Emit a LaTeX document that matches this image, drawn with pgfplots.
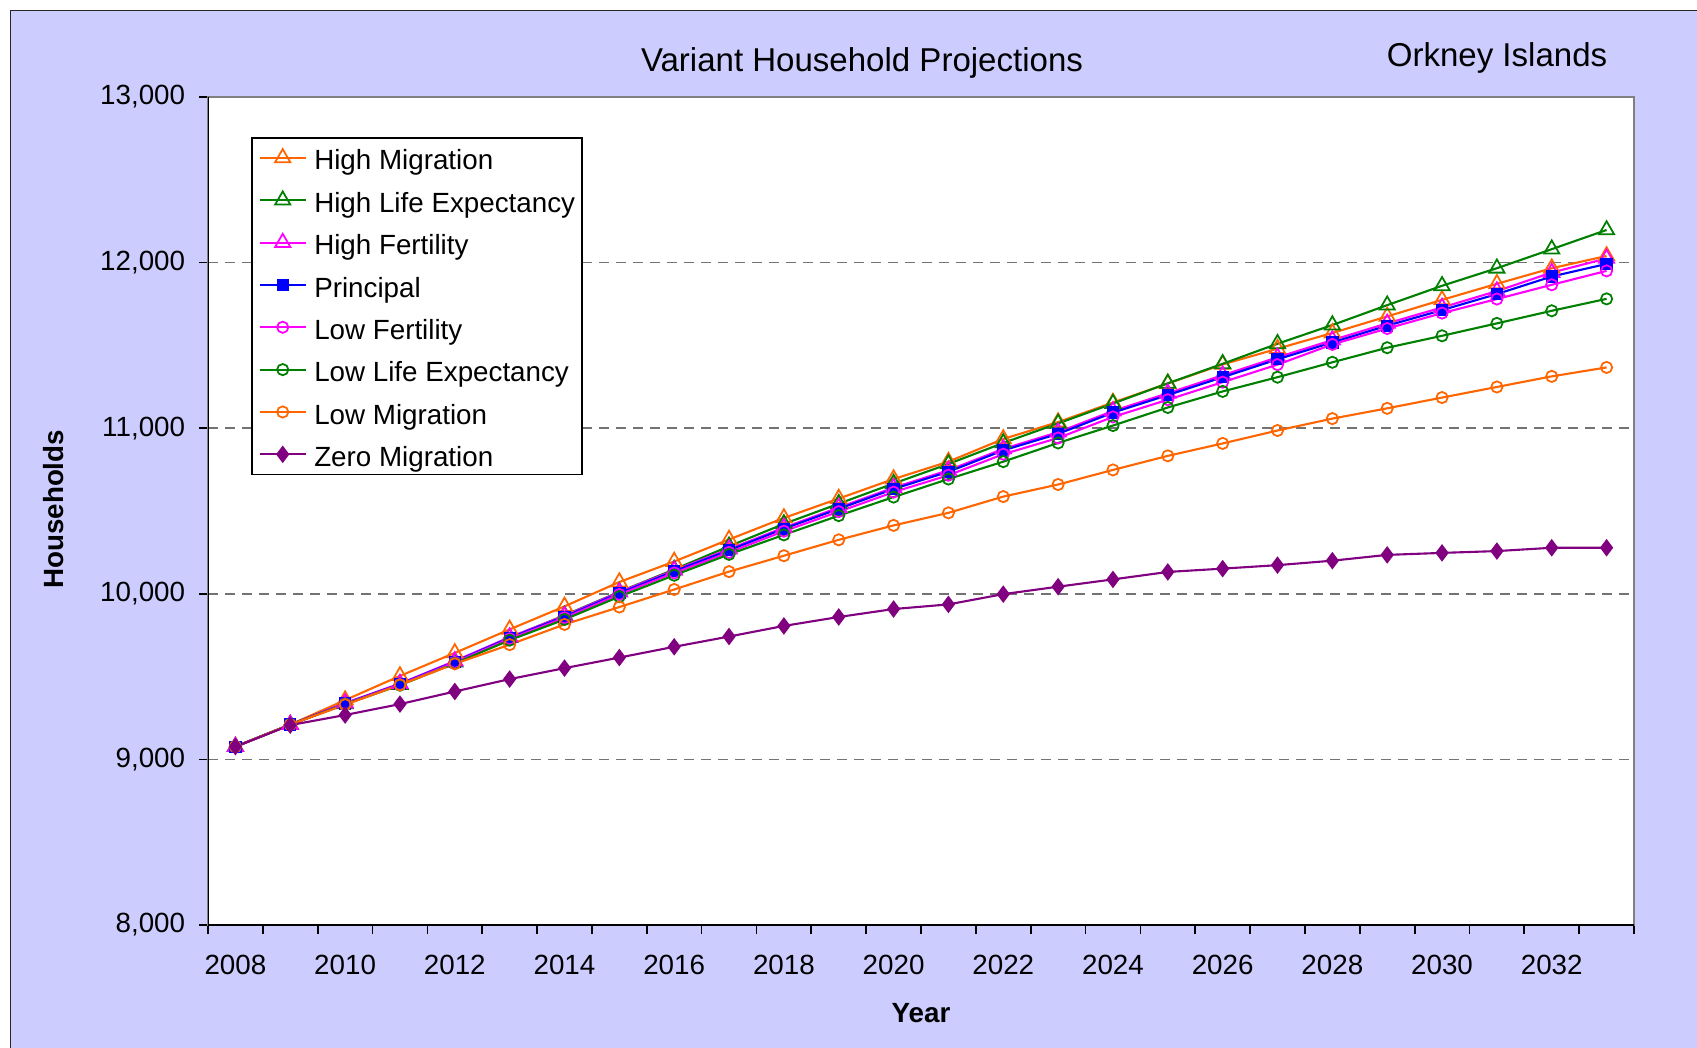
\documentclass[border=0pt]{standalone}
\usepackage{pgfplots}
\pgfplotsset{compat=1.18}
\usepackage{fontspec}
\setmainfont{Liberation Sans}
\definecolor{bgl}{HTML}{CCCCFF}
\definecolor{cor}{HTML}{FF6600}
\definecolor{cgr}{HTML}{008000}
\definecolor{cmg}{HTML}{FF00FF}
\definecolor{cbl}{HTML}{0000FF}
\definecolor{cpu}{HTML}{800080}
\newcommand{\fs}{\fontsize{7.9}{9.5}\selectfont}
\begin{document}
\begin{tikzpicture}
\path[use as bounding box] (0,0) rectangle (169.7mm,-104.8mm);
\fill[white] (0,0) rectangle (169.7mm,-104.8mm);
\fill[bgl] (1.05mm,-1.05mm) rectangle (169.7mm,-104.8mm);
\draw[black!85, line width=0.15mm] (1.05mm,-104.8mm) -- (1.05mm,-1.05mm) -- (169.7mm,-1.05mm);
\node[font=\fontsize{9.4}{11}\selectfont] at (86.2mm,-6.3mm) {Variant Household Projections};
\node[font=\fontsize{9.4}{11}\selectfont] at (149.7mm,-5.75mm) {Orkney Islands};
\begin{axis}[
 at={(20.8mm,-9.7mm)}, anchor=north west,
 scale only axis, width=142.6mm, height=82.8mm,
 xmin=2007.5, xmax=2033.5, ymin=8000, ymax=13000,
 axis background/.style={fill=white},
 axis line style={black!50, line width=0.5pt},
 xtick={2008,2010,...,2032},
 minor xtick={2007.5,2008.5,...,2033.5},
 ytick={8000,9000,...,13000},
 major x tick style={draw=none},
 minor tick length=0.9mm, major tick length=0.9mm,
 tick align=outside, xtick pos=bottom, ytick pos=left,
 tick style={black, line width=0.5pt},
 ymajorgrids, grid style={black!55, dash pattern=on 1mm off 0.7mm, line width=0.5pt},
 scaled ticks=false,
 /pgf/number format/assume math mode=true,
 xticklabel style={font=\fs, /pgf/number format/1000 sep={}, yshift=-0.9mm},
 yticklabel style={font=\fs, /pgf/number format/1000 sep={,}, xshift=-0.15mm},
 xlabel={Year}, ylabel={Households},
 label style={font=\fs\bfseries},
 xlabel style={at={(axis description cs:0.5,-0.106)}, anchor=center},
 ylabel style={at={(axis description cs:-0.108,0.502)}, anchor=center},
 legend style={at={(0.030,0.952)}, anchor=north west, draw=black, fill=white,
   font=\fs, line width=0.5pt, inner xsep=0.7mm, inner ysep=0.6mm,
   nodes={inner sep=0pt, text height=7.5pt, text depth=0.6pt},
   row sep=3.95pt, cells={anchor=west}},
 legend image code/.code={\draw[mark repeat=2,mark phase=2] plot coordinates {(0cm,0cm) (0.23cm,0cm) (0.46cm,0cm)};},
 /tikz/every odd column/.append style={column sep=0.75mm},
 every axis plot/.append style={line width=0.6pt, mark options={solid, line width=0.5pt}},
]
% High Migration
\addplot[color=cor, mark=triangle, mark size=2.5pt] coordinates {
(2008,9077)(2009,9210)(2010,9358)(2011,9504)(2012,9643)(2013,9785)(2014,9924)(2015,10071)(2016,10195)(2017,10328)(2018,10458)(2019,10575)(2020,10693)(2021,10798)(2022,10935)(2023,11037)(2024,11155)(2025,11270)(2026,11385)(2027,11480)(2028,11575)(2029,11675)(2030,11775)(2031,11872)(2032,11966)(2033,12040)};
\addlegendentry{High Migration}
% High Life Expectancy
\addplot[color=cgr, mark=triangle, mark size=2.5pt] coordinates {
(2008,9077)(2009,9210)(2010,9335)(2011,9452)(2012,9588)(2013,9735)(2014,9870)(2015,10012)(2016,10147)(2017,10287)(2018,10422)(2019,10544)(2020,10666)(2021,10784)(2022,10911)(2023,11029)(2024,11149)(2025,11271)(2026,11389)(2027,11510)(2028,11623)(2029,11743)(2030,11860)(2031,11966)(2032,12081)(2033,12197)};
\addlegendentry{High Life Expectancy}
% High Fertility
\addplot[color=cmg, mark=triangle, mark size=2.5pt] coordinates {
(2008,9077)(2009,9210)(2010,9340)(2011,9458)(2012,9594)(2013,9738)(2014,9867)(2015,10010)(2016,10142)(2017,10270)(2018,10400)(2019,10521)(2020,10641)(2021,10746)(2022,10875)(2023,10976)(2024,11104)(2025,11211)(2026,11320)(2027,11428)(2028,11532)(2029,11633)(2030,11729)(2031,11828)(2032,11940)(2033,12025)};
\addlegendentry{High Fertility}
% Principal
\addplot[color=cbl, mark=square*, mark size=1.5pt] coordinates {
(2008,9077)(2009,9210)(2010,9338)(2011,9455)(2012,9590)(2013,9734)(2014,9862)(2015,10004)(2016,10136)(2017,10263)(2018,10393)(2019,10513)(2020,10633)(2021,10737)(2022,10866)(2023,10966)(2024,11094)(2025,11200)(2026,11308)(2027,11416)(2028,11518)(2029,11619)(2030,11713)(2031,11810)(2032,11916)(2033,11992)};
\addlegendentry{Principal}
% Low Fertility
\addplot[color=cmg, mark=o, mark size=1.6pt] coordinates {
(2008,9077)(2009,9210)(2010,9336)(2011,9452)(2012,9586)(2013,9728)(2014,9855)(2015,9996)(2016,10126)(2017,10250)(2018,10378)(2019,10496)(2020,10614)(2021,10716)(2022,10843)(2023,10941)(2024,11068)(2025,11172)(2026,11278)(2027,11384)(2028,11506)(2029,11602)(2030,11695)(2031,11780)(2032,11866)(2033,11950)};
\addlegendentry{Low Fertility}
% Low Life Expectancy
\addplot[color=cgr, mark=o, mark size=1.6pt] coordinates {
(2008,9077)(2009,9210)(2010,9333)(2011,9448)(2012,9580)(2013,9720)(2014,9845)(2015,9983)(2016,10112)(2017,10238)(2018,10356)(2019,10472)(2020,10584)(2021,10693)(2022,10798)(2023,10911)(2024,11016)(2025,11125)(2026,11222)(2027,11308)(2028,11398)(2029,11486)(2030,11558)(2031,11633)(2032,11709)(2033,11781)};
\addlegendentry{Low Life Expectancy}
% Low Migration
\addplot[color=cor, mark=o, mark size=1.6pt] coordinates {
(2008,9077)(2009,9210)(2010,9330)(2011,9450)(2012,9577)(2013,9693)(2014,9815)(2015,9920)(2016,10026)(2017,10134)(2018,10230)(2019,10326)(2020,10413)(2021,10489)(2022,10587)(2023,10660)(2024,10748)(2025,10833)(2026,10908)(2027,10986)(2028,11058)(2029,11120)(2030,11185)(2031,11249)(2032,11313)(2033,11367)};
\addlegendentry{Low Migration}
% Zero Migration
\addplot[color=cpu, mark=diamond*, mark size=2.1pt] coordinates {
(2008,9077)(2009,9207)(2010,9268)(2011,9334)(2012,9410)(2013,9485)(2014,9551)(2015,9615)(2016,9680)(2017,9742)(2018,9806)(2019,9860)(2020,9908)(2021,9936)(2022,9998)(2023,10043)(2024,10087)(2025,10132)(2026,10152)(2027,10173)(2028,10200)(2029,10235)(2030,10247)(2031,10258)(2032,10278)(2033,10278)};
\addlegendentry{Zero Migration}
\draw[black, line width=0.6pt] (rel axis cs:0,1) -- (rel axis cs:0,0) -- (rel axis cs:1,0);
\end{axis}
\end{tikzpicture}
\end{document}
